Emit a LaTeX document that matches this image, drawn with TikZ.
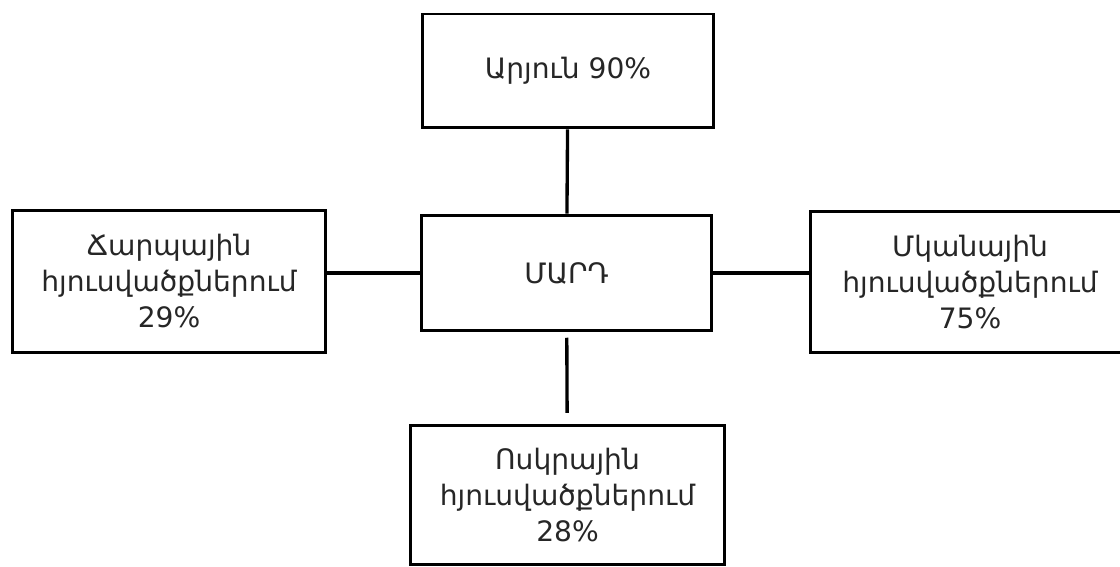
\documentclass[tikz,border=0pt]{standalone}
\usepackage{fontspec}
\setmainfont{DejaVu Sans}
\usetikzlibrary{positioning}

\begin{document}
\begin{tikzpicture}[x=0.02cm, y=-0.02cm,
  box/.style={draw, line width=1.7pt, align=center, inner sep=0pt,
    text=black!85, font=\fontsize{16}{20.5}\selectfont},
  link/.style={line width=1.9pt}]
  \useasboundingbox (0,0) rectangle (1120,567);
  \clip (0,0) rectangle (1120,567);

  % Centre
  \node[box, minimum width=5.82cm, minimum height=2.32cm] (mard) at (566.5,273) {ՄԱՐԴ};

  % Blood
  \node[box, minimum width=5.82cm, minimum height=2.28cm] (blood) at (568,71) {Արյուն 90\%};

  % Fat tissue
  \node[box, minimum width=6.28cm, minimum height=2.86cm] (fat) at (169,281.5)
    {Ճարպային\\հյուսվածքներում\\29\%};

  % Muscle tissue
  \node[box, minimum width=6.4cm, minimum height=2.84cm] (muscle) at (970,282)
    {Մկանային\\հյուսվածքներում\\75\%};

  % Bone tissue
  \node[box, minimum width=6.3cm, minimum height=2.8cm] (bone) at (567.5,495)
    {Ոսկրային\\հյուսվածքներում\\28\%};

  % Links
  \draw[link] (blood) -- (mard);
  \draw[link] (mard.west) -- (mard.west -| fat.east);
  \draw[link] (mard.east) -- (mard.east -| muscle.west);
  \draw[link, shorten <=3pt, shorten >=6pt] (mard) -- (bone);
\end{tikzpicture}
\end{document}
